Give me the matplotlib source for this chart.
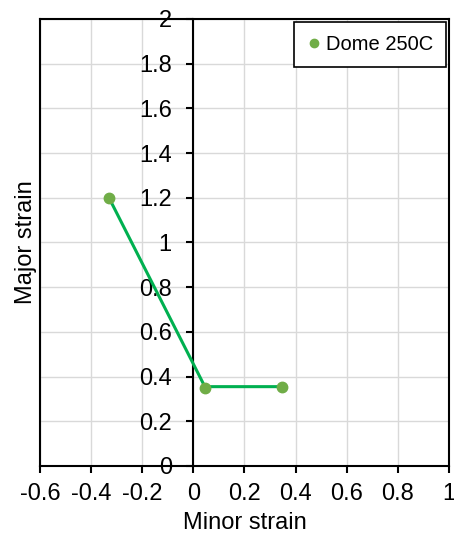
import matplotlib.pyplot as plt
from matplotlib.lines import Line2D

plt.rcParams['font.family'] = ['Liberation Sans', 'DejaVu Sans']

# strain data
minor_strain = [-0.33, 0.045, 0.345]
major_strain = [1.2, 0.35, 0.352]
# connecting line (slightly above the markers at the right end)
line_minor = [-0.33, 0.045, 0.345]
line_major = [1.2, 0.355, 0.355]

xticks = [-0.6, -0.4, -0.2, 0, 0.2, 0.4, 0.6, 0.8, 1]
yticks = [0, 0.2, 0.4, 0.6, 0.8, 1, 1.2, 1.4, 1.6, 1.8, 2]

def fmt(v):
    s = ('%.1f' % v).rstrip('0').rstrip('.')
    return '0' if s in ('-0', '0') else s

fig = plt.figure(figsize=(4.54, 5.36), dpi=100)
ax = fig.add_axes([0.088, 0.1306, 0.901, 0.834])

ax.plot(line_minor, line_major, color='#00B050', lw=2.2, zorder=3)
ax.plot(minor_strain, major_strain, 'o', color='#70AD47', ms=7.5,
        zorder=4, label='Dome 250C')

ax.set_xlim(-0.6, 1)
ax.set_ylim(0, 2)
ax.set_xticks(xticks)
ax.set_yticks(yticks)
ax.set_xticklabels([fmt(v) for v in xticks])
ax.set_yticklabels([fmt(v) for v in yticks])
ax.grid(True, color='#D9D9D9', lw=1)
ax.set_axisbelow(True)

# y axis drawn at x=0 like the spreadsheet chart
ax.spines['left'].set_position(('data', 0))
for s in ax.spines.values():
    s.set_linewidth(1.5)
    s.set_color('black')
ax.add_line(Line2D([0, 0], [0, 1], transform=ax.transAxes, color='black',
                   lw=1.5, clip_on=False))

ax.tick_params(axis='both', direction='out', length=5, width=1.5,
               labelsize=17, colors='black')
ax.tick_params(axis='x', pad=7)
ax.tick_params(axis='y', pad=10.5)

ax.set_xlabel('Minor strain', fontsize=17, labelpad=5)
ax.set_ylabel('Major strain', fontsize=17)
ax.yaxis.set_label_coords(-0.006, 0.5)

leg = ax.legend(loc='upper right', fontsize=14.5, frameon=True, fancybox=False,
                edgecolor='black', handlelength=0.6, handletextpad=0.3,
                borderaxespad=0.15, borderpad=0.65, markerscale=0.8)
leg.get_frame().set_linewidth(1.2)
leg.get_frame().set_alpha(1)

plt.savefig('out.png', dpi=100)
